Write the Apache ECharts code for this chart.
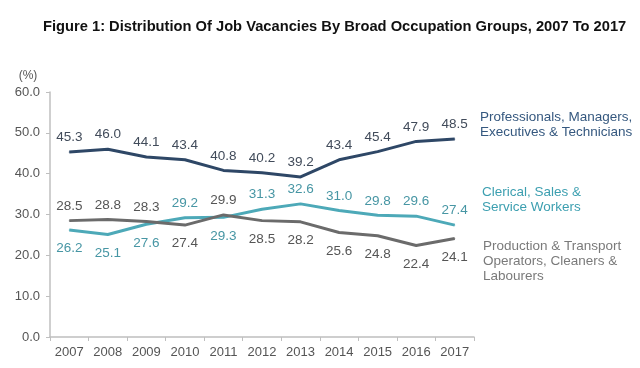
<!DOCTYPE html>
<html><head><meta charset="utf-8">
<script src="https://cdn.jsdelivr.net/npm/echarts@6/dist/echarts.min.js"></script>
<style>html,body{margin:0;padding:0;background:#fff}#c{width:640px;height:368px}</style>
</head><body><div id="c"></div>
<script>
const years = ['2007','2008','2009','2010','2011','2012','2013','2014','2015','2016','2017'];
const pmet = [45.3,46.0,44.1,43.4,40.8,40.2,39.2,43.4,45.4,47.9,48.5];
const clerical = [26.2,25.1,27.6,29.2,29.3,31.3,32.6,31.0,29.8,29.6,27.4];
const production = [28.5,28.8,28.3,27.4,29.9,28.5,28.2,25.6,24.8,22.4,24.1];
const clericalPos = ['bottom','bottom','bottom','top','bottom','top','top','top','top','top','top'];
const productionPos = ['top','top','top','bottom','top','bottom','bottom','bottom','bottom','bottom','bottom'];
const yTicks = [0,10,20,30,40,50,60];
const seriesNames = ['Professionals, Managers,\nExecutives & Technicians','Clerical, Sales &\nService Workers','Production & Transport\nOperators, Cleaners &\nLabourers'];

const FONT = 'Liberation Sans, Arial, sans-serif';
const ch = echarts.init(document.getElementById('c'));
function items(vals, pos){
  return vals.map((v,i)=>({value:v,label:{position:pos?pos[i]:'top',distance:pos&&pos[i]==='bottom'?11:7}}));
}
const lab = (c)=>({show:true,color:c,fontSize:13.5,fontFamily:FONT,formatter:p=>Number(p.value).toFixed(1)});
const sym = {symbol:'circle',symbolSize:1,showSymbol:true,showAllSymbol:true};
ch.setOption({
  animation:false,
  title:{text:'Figure 1: Distribution Of Job Vacancies By Broad Occupation Groups, 2007 To 2017',left:38,top:14,
    textStyle:{fontSize:14.7,fontWeight:'bold',color:'#111',fontFamily:FONT}},
  grid:{left:50,right:166,top:92,bottom:31},
  xAxis:{type:'category',data:years,boundaryGap:true,
    axisLine:{lineStyle:{color:'#BFBFBF',width:1.5}},
    axisTick:{show:true,length:4,lineStyle:{color:'#BFBFBF'}},
    axisLabel:{color:'#555',fontSize:13,margin:9,fontFamily:FONT}},
  yAxis:{type:'value',min:0,max:60,interval:10,
    name:'(%)',nameLocation:'end',nameGap:10,nameTextStyle:{color:'#555',fontSize:12,align:'center',padding:[0,0,0,-44],fontFamily:FONT},
    axisLine:{show:true,lineStyle:{color:'#BFBFBF',width:1.5}},
    axisTick:{show:true,length:4,lineStyle:{color:'#BFBFBF'}},
    splitLine:{show:false},
    axisLabel:{color:'#555',fontSize:13,margin:10,formatter:v=>v.toFixed(1),fontFamily:FONT}},
  series:[
    Object.assign({name:seriesNames[0],type:'line',data:items(pmet),lineStyle:{color:'#2E4766',width:3},itemStyle:{color:'#2E4766'},label:lab('#414B5A')},sym),
    Object.assign({name:seriesNames[1],type:'line',data:items(clerical,clericalPos),lineStyle:{color:'#4DA9B8',width:3},itemStyle:{color:'#4DA9B8'},label:lab('#4796A4')},sym),
    Object.assign({name:seriesNames[2],type:'line',data:items(production,productionPos),lineStyle:{color:'#6B6B6B',width:3},itemStyle:{color:'#6B6B6B'},label:lab('#555')},sym)
  ],
  graphic:[
    {type:'text',left:480,top:110,style:{text:seriesNames[0],fill:'#35587F',fontSize:13.5,lineHeight:15,fontFamily:FONT}},
    {type:'text',left:482,top:185,style:{text:seriesNames[1],fill:'#3C9FB0',fontSize:13.5,lineHeight:15,fontFamily:FONT}},
    {type:'text',left:483,top:239,style:{text:seriesNames[2],fill:'#7A7A7A',fontSize:13.5,lineHeight:15,fontFamily:FONT}}
  ]
});
</script></body></html>
